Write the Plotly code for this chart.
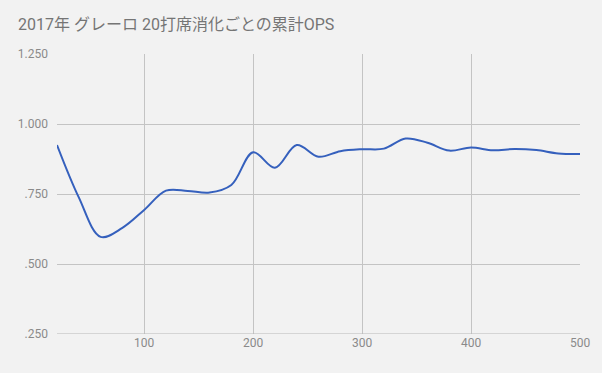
import plotly.graph_objects as go

pa = [20, 40, 60, 80, 100, 120, 140, 160, 180, 200, 220, 240, 260, 280, 300,
      320, 340, 360, 380, 400, 420, 440, 460, 480, 500]
ops = [0.925, 0.738, 0.597, 0.629, 0.693, 0.762, 0.761, 0.755, 0.782, 0.899,
       0.844, 0.925, 0.883, 0.903, 0.910, 0.912, 0.948, 0.933, 0.905, 0.916,
       0.906, 0.911, 0.907, 0.895, 0.893]

y_tickvals = [0.25, 0.5, 0.75, 1.0, 1.25]
y_ticktext = [".250", ".500", ".750", "1.000", "1.250"]
x_tickvals = [100, 200, 300, 400, 500]
title_text = "2017年 グレーロ 20打席消化ごとの累計OPS"

fig = go.Figure()
fig.add_trace(go.Scatter(
    x=pa, y=ops, mode="lines",
    line=dict(color="#3560bd", width=2, shape="spline", smoothing=1.0),
    hoverinfo="x+y", showlegend=False,
))

bg = "#f2f2f2"
fig.update_layout(
    width=602, height=373,
    paper_bgcolor=bg, plot_bgcolor=bg,
    margin=dict(l=57, r=22, t=54, b=39),
    font=dict(family="Roboto, 'Noto Sans CJK JP', sans-serif", color="#8a8a8a", size=12),
    title=dict(text=title_text, x=0, xref="container", xanchor="left",
               y=1, yref="container", yanchor="top", pad=dict(t=19, l=18),
               font=dict(size=16, color="#757575",
                         family="Roboto, 'Noto Sans CJK JP', sans-serif")),
    xaxis=dict(range=[20, 500], tickvals=x_tickvals, showgrid=True,
               gridcolor="#c4c4c4", gridwidth=1, zeroline=False, showline=False,
               ticks="", tickfont=dict(size=12, color="#8a8a8a")),
    yaxis=dict(range=[0.25, 1.25], tickvals=y_tickvals, ticktext=y_ticktext,
               showgrid=True, gridcolor="#c4c4c4", gridwidth=1, zeroline=False,
               showline=False, ticks="", ticklabelstandoff=8,
               tickfont=dict(size=12, color="#8a8a8a")),
)
fig.add_shape(type="line", xref="paper", yref="y", x0=0, x1=1, y0=0.25, y1=0.25,
              line=dict(color="#b8b8b8", width=1))
fig.write_html("out.html", config={"displayModeBar": False},
               post_script="document.body.style.margin='0px';document.body.style.background='#f2f2f2';")
